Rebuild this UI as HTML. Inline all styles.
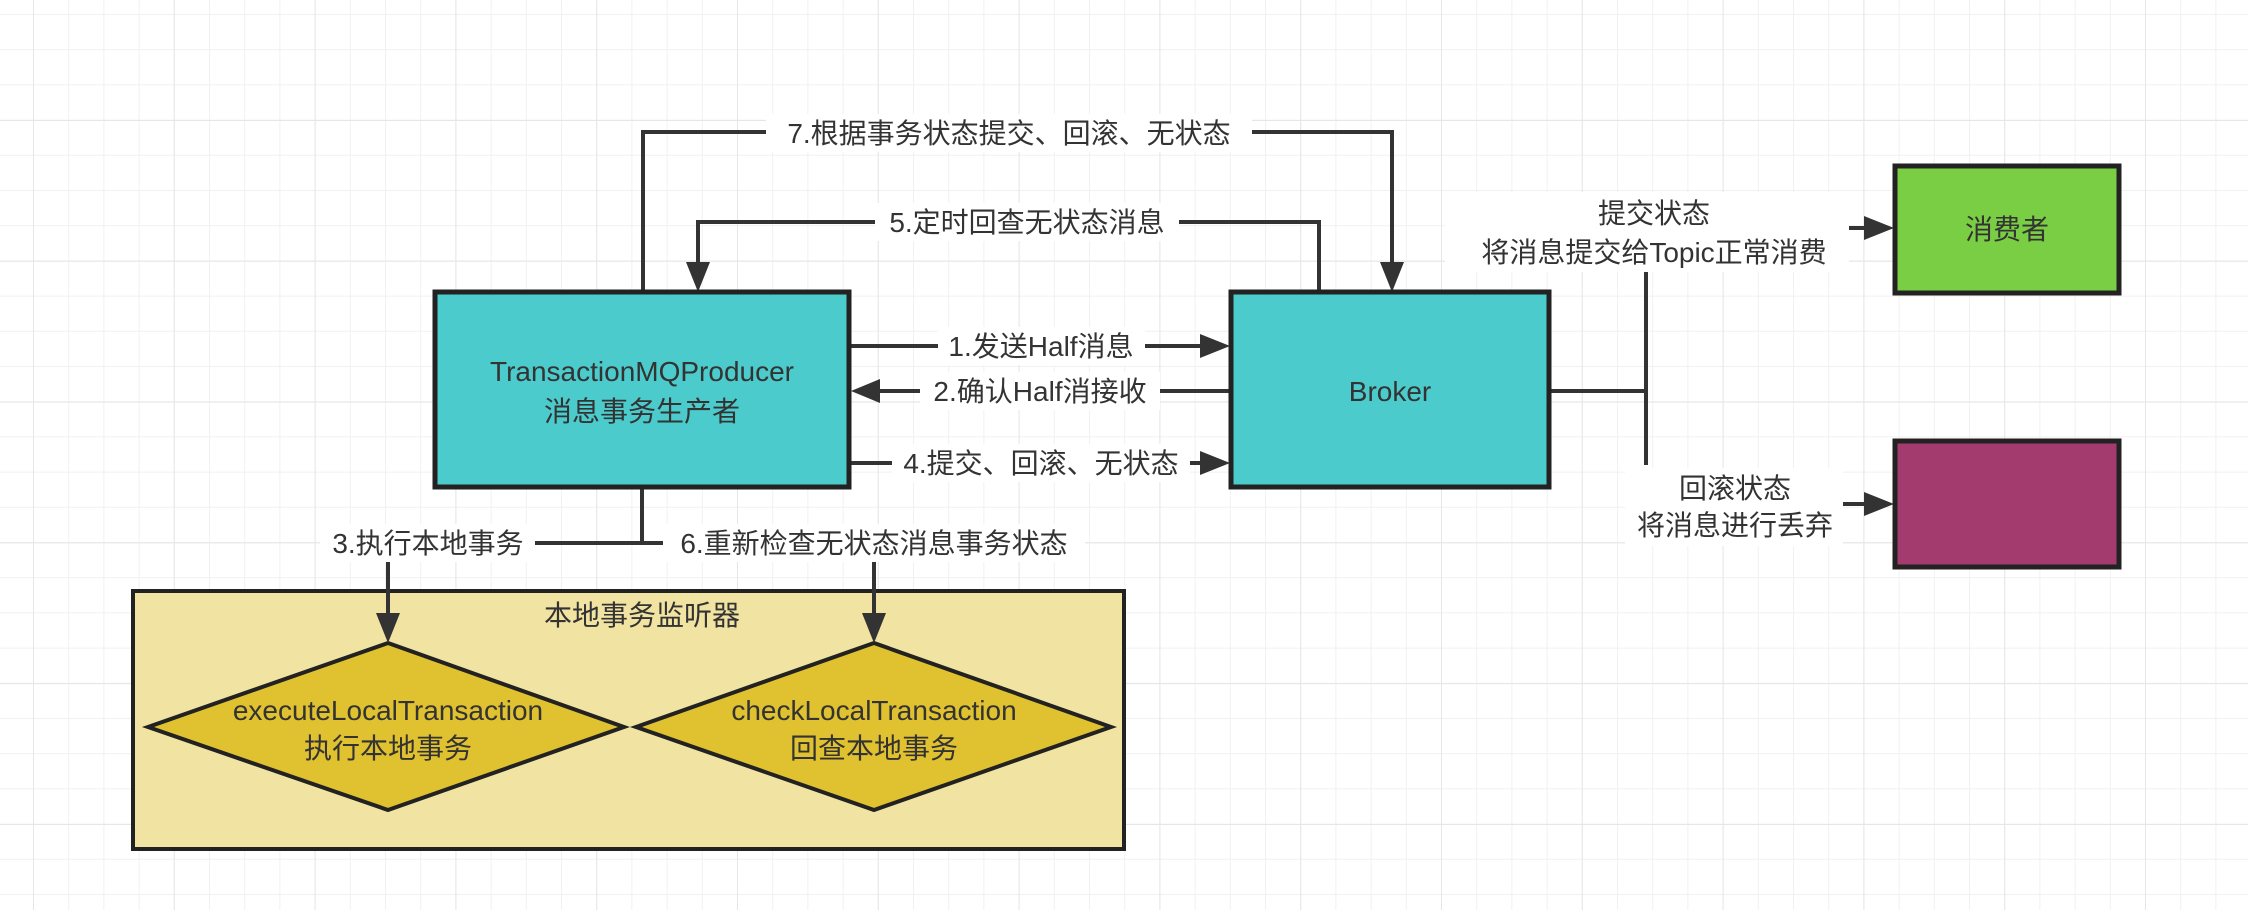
<!DOCTYPE html>
<html><head><meta charset="utf-8"><style>
html,body{margin:0;padding:0;background:#fff;}
svg{display:block;}
text{font-family:"Liberation Sans","Noto Sans CJK SC",sans-serif;font-size:28px;fill:#333;}
</style></head><body>
<svg width="2248" height="910" viewBox="0 0 2248 910" xmlns="http://www.w3.org/2000/svg">
<defs>
<pattern id="g" x="33" y="14" width="35.2" height="35.2" patternUnits="userSpaceOnUse">
<path d="M0 0V35.2M0 0H35.2" stroke="#f1f1f1" stroke-width="2" fill="none"/>
</pattern>
<pattern id="G" x="33" y="120" width="140.8" height="140.8" patternUnits="userSpaceOnUse">
<path d="M0 0V140.8M0 0H140.8" stroke="#e6e6e6" stroke-width="2" fill="none"/>
</pattern>
</defs>
<rect width="2248" height="910" fill="url(#g)"/>
<rect width="2248" height="910" fill="url(#G)"/>

<g stroke="#333" stroke-width="4" fill="none">
<polyline points="643,290 643,132 1392,132 1392,262"/>
<polyline points="1319,290 1319,222 698,222 698,262"/>
<line x1="851" y1="346" x2="1200" y2="346"/>
<line x1="880" y1="391" x2="1229" y2="391"/>
<line x1="851" y1="463" x2="1200" y2="463"/>
<polyline points="642,488 642,543"/>
<line x1="535" y1="543" x2="663" y2="543"/>
<line x1="1550" y1="391" x2="1646" y2="391"/>
<line x1="1646" y1="262" x2="1646" y2="465"/>
<line x1="1840" y1="228" x2="1866" y2="228"/>
<line x1="1840" y1="504" x2="1866" y2="504"/>
</g>
<g fill="#333">
<polygon points="1380,262 1404,262 1392,292"/>
<polygon points="686,262 710,262 698,292"/>
<polygon points="1200,334 1200,358 1230,346"/>
<polygon points="880,379 880,403 851,391"/>
<polygon points="1200,451 1200,475 1230,463"/>
<polygon points="1864,216 1864,240 1894,228"/>
<polygon points="1864,492 1864,516 1894,504"/>
</g>

<rect x="435" y="292" width="414" height="195" fill="#4ccbcc" stroke="#222" stroke-width="5"/>
<rect x="1231" y="292" width="318" height="195" fill="#4ccbcc" stroke="#222" stroke-width="5"/>
<rect x="1895" y="166" width="224" height="127" fill="#7ace44" stroke="#222" stroke-width="5"/>
<rect x="1895" y="441" width="224" height="126" fill="#a43b6f" stroke="#222" stroke-width="5"/>
<rect x="133" y="591" width="991" height="258" fill="#f1e3a1" stroke="#222" stroke-width="4"/>
<polygon points="148,727 388,643 624,727 388,810" fill="#e0c12f" stroke="#222" stroke-width="4"/>
<polygon points="636,727 874,643 1111,727 874,810" fill="#e0c12f" stroke="#222" stroke-width="4"/>

<g stroke="#333" stroke-width="4" fill="none">
<polyline points="388,543 388,615"/>
<polyline points="874,543 874,615"/>
</g>
<g fill="#333">
<polygon points="376,613 400,613 388,643"/>
<polygon points="862,613 886,613 874,643"/>
</g>

<g fill="#fff">
<rect x="766" y="114" width="486" height="38"/>
<rect x="875" y="203" width="304" height="38"/>
<rect x="938" y="327" width="207" height="38"/>
<rect x="920" y="372" width="240" height="38"/>
<rect x="892" y="444" width="298" height="38"/>
<rect x="320" y="524" width="215" height="38"/>
<rect x="663" y="524" width="422" height="38"/>
<rect x="1445" y="192" width="404" height="80"/>
<rect x="1625" y="468" width="218" height="78"/>
</g>

<g text-anchor="middle">
<text x="1009" y="143">7.根据事务状态提交、回滚、无状态</text>
<text x="1027" y="232">5.定时回查无状态消息</text>
<text x="1041" y="356">1.发送Half消息</text>
<text x="1040" y="401">2.确认Half消接收</text>
<text x="1041" y="473">4.提交、回滚、无状态</text>
<text x="428" y="553">3.执行本地事务</text>
<text x="874" y="553">6.重新检查无状态消息事务状态</text>
<text x="1654" y="223">提交状态</text>
<text x="1654" y="262">将消息提交给Topic正常消费</text>
<text x="1735" y="498">回滚状态</text>
<text x="1735" y="535">将消息进行丢弃</text>
<text x="642" y="381">TransactionMQProducer</text>
<text x="642" y="421">消息事务生产者</text>
<text x="1390" y="401">Broker</text>
<text x="2007" y="239">消费者</text>
<text x="642" y="625">本地事务监听器</text>
<text x="388" y="720">executeLocalTransaction</text>
<text x="388" y="758">执行本地事务</text>
<text x="874" y="720">checkLocalTransaction</text>
<text x="874" y="758">回查本地事务</text>
</g>
</svg>
</body></html>
